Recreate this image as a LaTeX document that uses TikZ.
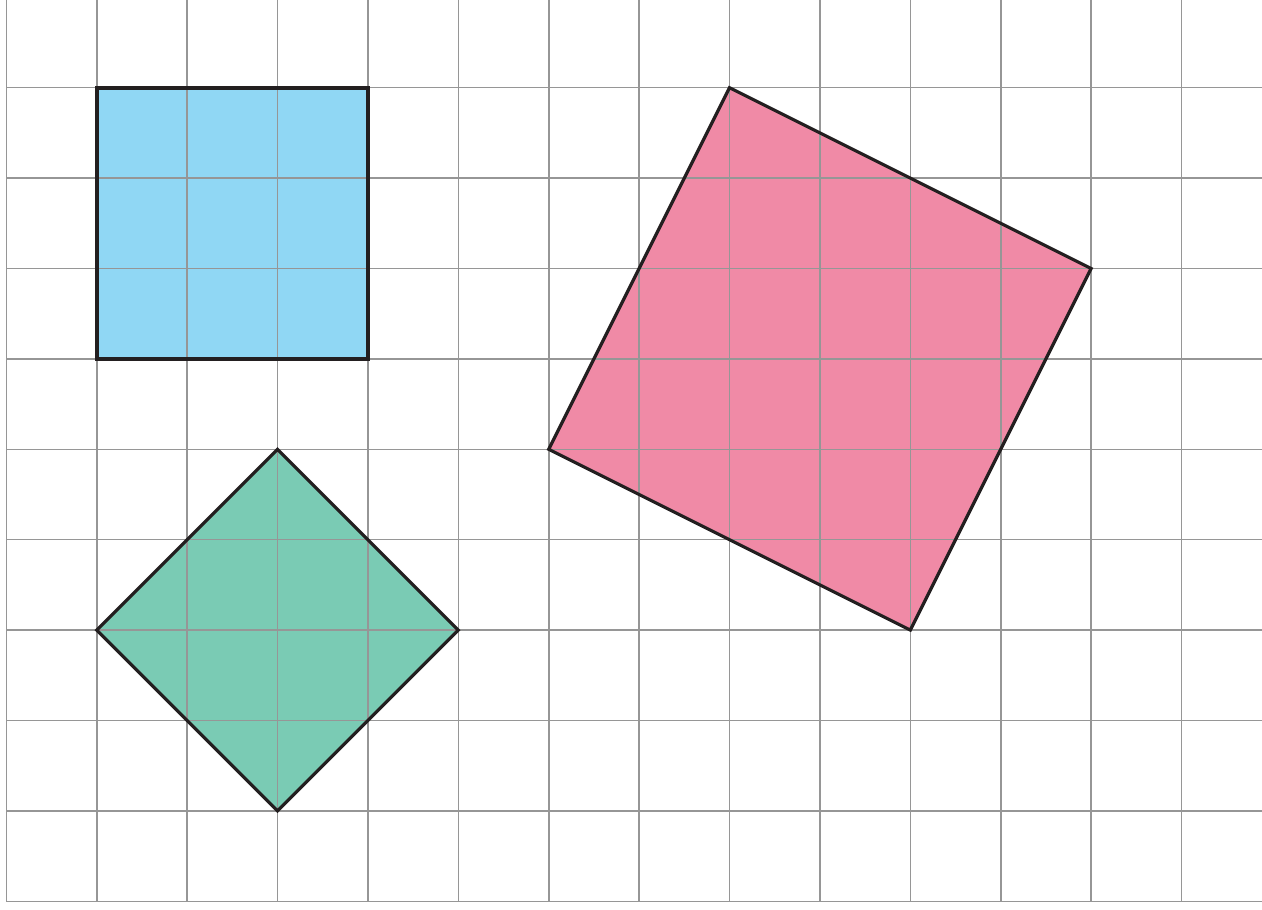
\documentclass[tikz,border=0pt]{standalone}
\usepackage[table]{xcolor}
\usepackage{tikz}

\definecolor{sqblue}{RGB}{144,215,244}
\definecolor{sqgreen}{RGB}{122,203,180}
\definecolor{sqpink}{RGB}{240,138,166}
\definecolor{gridgray}{RGB}{150,150,150}
\definecolor{edgeblack}{RGB}{35,31,32}

\begin{document}
\begin{tikzpicture}
        \useasboundingbox (-0.07,-0.09) rectangle (13.89,9.97);       %
        \fill [sqblue]   (1,6) rectangle (4,9);                        %square
        \fill [sqgreen]  (3,5) -- (5,3) -- (3,1) -- (1,3) -- cycle;    %diamond
        \fill [sqpink]   (8,9) -- (12,7) -- (10,3) -- (6,5) -- cycle;  %tilted
        \foreach \x in {0,...,13}                                      %
            \draw [gridgray, line width=0.5pt] (\x,0) -- (\x,9.97);    %
        \foreach \y in {0,...,9}                                       %
            \draw [gridgray, line width=0.5pt] (0,\y) -- (13.89,\y);   %

        \draw [edgeblack, line width=1.3pt] (1,6) rectangle (4,9);                        %square
        \draw [edgeblack, line width=1pt]   (3,5) -- (5,3) -- (3,1) -- (1,3) -- cycle;    %diamond
        \draw [edgeblack, line width=1pt]   (8,9) -- (12,7) -- (10,3) -- (6,5) -- cycle;  %tilted
      \end{tikzpicture}
\end{document}
